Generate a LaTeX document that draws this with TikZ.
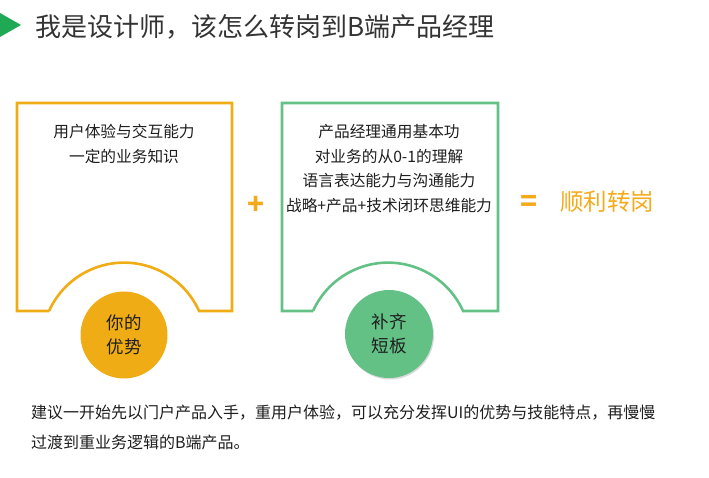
\documentclass[tikz,border=0pt]{standalone}
\usepackage{fontspec}
\setmainfont{Noto Sans CJK SC}
\usetikzlibrary{shadows}
\definecolor{myorange}{HTML}{F0AC14}
\definecolor{textorange}{HTML}{F5AA1C}
\definecolor{mygreen}{HTML}{63C186}
\definecolor{darkgreen}{HTML}{1FA954}
\definecolor{titlegray}{HTML}{333333}
\definecolor{bodytext}{HTML}{1E1E1E}
\tikzset{
  boxline/.style={line width=2.6pt, line join=miter},
  boxtext/.style={align=center, text=bodytext, font=\fontsize{15.7}{24.7}\selectfont, inner sep=0pt},
  circtext/.style={align=center, text=bodytext, font=\fontsize{17.5}{24}\selectfont, inner sep=0pt},
  bodyline/.style={anchor=west, text=bodytext, font=\fontsize{16}{18}\selectfont, inner sep=0pt},
}
\begin{document}
\begin{tikzpicture}[x=1pt,y=1pt]
\useasboundingbox (0,0) rectangle (709,478);
% title
\fill[darkgreen] (0,465) -- (21,453) -- (0,441) -- cycle;
\node[anchor=west, inner sep=0pt, text=titlegray, font=\fontsize{26}{30}\selectfont] (title) at (35,451) {我是设计师，该怎么转岗到B端产品经理};
% left box
\draw[boxline, myorange] (49,167) -- (17,167) -- (17,375) -- (232,375) -- (232,167) -- (199.06,167)
  arc[start angle=24.4, end angle=155.6, radius=82.4] -- cycle;
\node[circle, fill=myorange, minimum size=87pt, inner sep=0pt] (c1) at (124,143) {};
\node[circtext] (c1t) at (c1) {你的\\优势};
\node[boxtext] (t1) at (124,334) {用户体验与交互能力\\一定的业务知识};
% right box
\draw[boxline, mygreen] (313,167) -- (282,167) -- (282,375) -- (498,375) -- (498,167) -- (463.06,167)
  arc[start angle=24.4, end angle=155.6, radius=82.4] -- cycle;
\node[circle, fill=mygreen, minimum size=88pt, inner sep=0pt,
  drop shadow={shadow xshift=1pt, shadow yshift=-1.5pt, opacity=0.25, fill=black!60}] (c2) at (389,144) {};
\node[circtext] (c2t) at (c2) {补齐\\短板};
\node[boxtext] (t2) at (389,309.5) {产品经理通用基本功\\对业务的从0-1的理解\\语言表达能力与沟通能力\\战略+产品+技术闭环思维能力};
% operators
\node[text=textorange, font=\fontsize{28}{30}\selectfont\bfseries, inner sep=0pt] (plus) at (256,273) {+};
\node[text=textorange, font=\fontsize{28}{30}\selectfont\bfseries, inner sep=0pt] (eq) at (529,275) {=};
\node[anchor=west, text=textorange, font=\fontsize{23.5}{26}\selectfont, inner sep=0pt] (res) at (560,276) {顺利转岗};
% bottom text
\node[bodyline] (b1) at (31,65) {建议一开始先以门户产品入手，重用户体验，可以充分发挥UI的优势与技能特点，再慢慢};
\node[bodyline] (b2) at (31,36) {过渡到重业务逻辑的B端产品。};
\end{tikzpicture}
\end{document}
